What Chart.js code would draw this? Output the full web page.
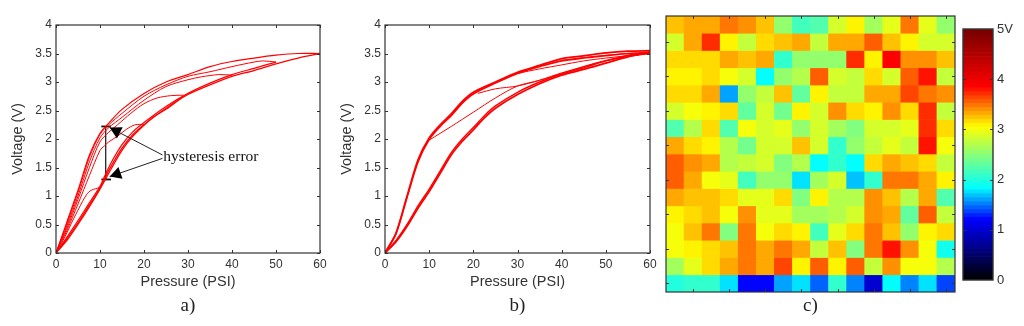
<!DOCTYPE html>
<html>
<head>
<meta charset="utf-8">
<title>Hysteresis and sensor map</title>
<script src="https://cdn.jsdelivr.net/npm/chart.js@4"></script>
<style>
  html, body { margin: 0; background: #fff; overflow: hidden; }
  canvas { position: absolute; top: 0; }
</style>
</head>
<body>
<canvas id="chartA" width="335" height="326" style="left:0"></canvas>
<canvas id="chartB" width="335" height="326" style="left:329px"></canvas>
<canvas id="chartC" width="300" height="326" style="left:660px"></canvas>
<canvas id="chartBar" width="69" height="326" style="left:955px"></canvas>
<script>
// axis ticks shared by panels a) and b)
const pressureTicks = [0, 10, 20, 30, 40, 50, 60];
const voltageTicks = [0, 0.5, 1, 1.5, 2, 2.5, 3, 3.5, 4];

// panel a) loading branches
const aLoadP = [0, 2.5, 5, 7.5, 10, 11, 12.5, 15, 17.5, 20, 25, 30, 35, 40, 45, 50, 55, 60];
const aLoadV = [0, 0.25, 0.53, 0.83, 1.14, 1.3, 1.52, 1.84, 2.08, 2.25, 2.54, 2.78, 2.95, 3.1, 3.2, 3.32, 3.42, 3.5];
const aLoad50P = [0, 2.5, 5, 7.5, 10, 11, 12.5, 15, 17.5, 20, 25, 30, 35, 40, 45, 50];
const aLoad50V = [0, 0.28, 0.57, 0.87, 1.17, 1.34, 1.58, 1.9, 2.13, 2.29, 2.57, 2.8, 2.98, 3.13, 3.24, 3.35];
const aLoad30P = [0, 2.5, 5, 7.5, 10, 12.5, 15, 17.5, 20, 22, 25, 29];
const aLoad30V = [0, 0.22, 0.5, 0.8, 1.12, 1.47, 1.8, 2.05, 2.24, 2.38, 2.52, 2.75];

// panel a) unloading branches, one per peak pressure
const aDown60P = [60, 55, 50, 45, 40, 35, 30, 25, 20, 15, 12, 10, 7.6, 5, 2.5, 0];
const aDown60V = [3.5, 3.5, 3.47, 3.42, 3.36, 3.27, 3.13, 3.0, 2.8, 2.52, 2.28, 2.1, 1.72, 1.1, 0.55, 0];
const aDown50P = [50, 47, 45, 40, 35, 30, 25, 20, 15, 12, 10, 7.6, 5, 2.5, 0];
const aDown50V = [3.35, 3.37, 3.35, 3.27, 3.18, 3.1, 2.95, 2.75, 2.45, 2.25, 2.08, 1.68, 1.06, 0.52, 0];
const aDown40P = [40, 37, 33, 30, 25, 20, 15, 12, 10, 7.6, 5, 2.5, 0];
const aDown40V = [3.12, 3.13, 3.09, 3.04, 2.92, 2.68, 2.38, 2.2, 2.02, 1.6, 1.0, 0.48, 0];
const aDown30P = [29, 26, 23, 20, 17, 14, 12, 10, 7.6, 5, 2.5, 0];
const aDown30V = [2.77, 2.76, 2.72, 2.62, 2.45, 2.25, 2.12, 1.95, 1.5, 0.94, 0.44, 0];
const aDown20P = [20, 18, 16, 14, 12, 11, 10, 7.6, 5, 2.5, 0];
const aDown20V = [2.25, 2.25, 2.17, 2.05, 1.95, 1.88, 1.8, 1.36, 0.86, 0.4, 0];
const aDown10P = [10, 8, 7, 6, 4, 2, 0];
const aDown10V = [1.15, 1.1, 1.03, 0.9, 0.6, 0.28, 0];

// panel a) error bar at 11 PSI
const errorBarP = [11.3, 11.3];
const errorBarV = [1.29, 2.22];
const capP = [10.3, 12.5];
const capTopV = [2.22, 2.22];
const capLowV = [1.29, 1.29];

// panel a) annotation anchors, data coordinates
const noteLabel = 'hysteresis error';
const noteAt = [24.4, 1.69];
const arrowTips = [[12.2, 2.2], [12.2, 1.34]];
const arrowTails = [[24.2, 1.72], [24.2, 1.66]];

// panel b) branches
const bLoadP = [0, 2.5, 5, 7.5, 10, 12.5, 15, 17.5, 20, 22.5, 25, 30, 35, 40, 45, 50, 55, 60];
const bLoadV = [0, 0.2, 0.47, 0.79, 1.08, 1.4, 1.72, 1.96, 2.16, 2.37, 2.54, 2.78, 2.97, 3.12, 3.22, 3.33, 3.44, 3.52];
const bLoad2V = [0, 0.22, 0.5, 0.83, 1.12, 1.44, 1.76, 2.0, 2.2, 2.41, 2.58, 2.82, 3.0, 3.14, 3.25, 3.37, 3.47, 3.53];
const bDownP = [60, 55, 50, 45, 40, 35, 30, 25, 20, 17.5, 15, 12.5, 10, 7.5, 5, 2.5, 0];
const bDownV = [3.55, 3.54, 3.51, 3.46, 3.41, 3.29, 3.17, 3.0, 2.82, 2.66, 2.44, 2.25, 2.02, 1.64, 1.0, 0.35, 0];
const bDown2V = [3.5, 3.5, 3.46, 3.42, 3.37, 3.27, 3.15, 2.98, 2.79, 2.63, 2.41, 2.22, 1.99, 1.6, 0.98, 0.34, 0];
const bUp10P = [10, 15, 20, 25, 30, 35, 40, 50, 60];
const bUp10V = [1.98, 2.22, 2.47, 2.72, 2.93, 3.03, 3.16, 3.37, 3.52];
const bUp20P = [21, 25, 30, 35, 40, 50, 60];
const bUp20V = [2.8, 2.88, 2.93, 3.03, 3.15, 3.38, 3.5];
const bUp30P = [30, 35, 40, 45, 50, 60];
const bUp30V = [3.15, 3.23, 3.3, 3.37, 3.42, 3.5];
const bUp40P = [40, 45, 50, 55, 60];
const bUp40V = [3.38, 3.43, 3.47, 3.5, 3.52];

// panel c) sensor voltages, top row first
const heatColumns = ['1', '2', '3', '4', '5', '6', '7', '8', '9', '10', '11', '12', '13', '14', '15', '16'];
const heatRows = [
  [3.21, 3.29, 3.29, 3.49, 3.37, 3.25, 2.57, 2.14, 2.2, 2.87, 3.05, 2.63, 2.93, 3.45, 2.93, 2.57],
  [2.87, 3.29, 3.69, 3.05, 2.81, 3.13, 3.21, 3.29, 2.81, 3.33, 3.33, 3.57, 3.21, 3.05, 2.87, 2.87],
  [3.13, 3.13, 3.13, 3.29, 3.21, 3.29, 2.08, 2.51, 2.57, 2.51, 3.69, 3.05, 3.85, 3.41, 3.41, 3.25],
  [3.05, 3.05, 3.13, 2.99, 2.87, 1.83, 2.51, 2.69, 3.53, 2.87, 2.81, 3.13, 2.87, 3.53, 3.81, 2.81],
  [3.13, 3.17, 3.29, 1.58, 2.51, 2.81, 3.25, 2.33, 3.05, 2.75, 2.75, 3.33, 3.33, 3.61, 3.45, 3.37],
  [2.87, 2.99, 3.05, 3.17, 2.33, 2.87, 2.39, 3.05, 2.87, 3.41, 3.13, 3.05, 3.41, 3.13, 3.73, 2.81],
  [2.26, 2.69, 3.13, 2.2, 2.99, 2.87, 2.93, 2.57, 2.87, 2.63, 2.45, 2.87, 2.87, 2.93, 3.73, 3.13],
  [3.29, 3.17, 3.09, 2.69, 2.39, 2.87, 2.87, 3.21, 2.87, 2.08, 2.57, 2.81, 2.93, 2.75, 3.81, 2.99],
  [3.53, 3.41, 3.33, 2.69, 2.81, 2.87, 2.45, 2.69, 1.83, 2.08, 1.83, 3.13, 3.33, 3.21, 3.17, 2.75],
  [3.53, 3.29, 2.99, 2.93, 2.14, 2.57, 2.51, 1.75, 2.63, 2.87, 1.67, 2.08, 3.45, 3.45, 3.29, 3.05],
  [3.29, 3.21, 3.21, 3.13, 2.93, 2.93, 3.13, 2.45, 3.05, 2.69, 2.69, 3.37, 3.21, 2.69, 3.29, 2.2],
  [3.05, 3.13, 3.25, 2.99, 3.37, 2.93, 2.93, 2.63, 2.63, 2.69, 2.87, 3.37, 3.29, 2.33, 3.53, 2.81],
  [2.99, 3.25, 3.45, 2.45, 3.45, 2.99, 3.13, 3.05, 2.14, 2.93, 3.13, 3.45, 3.21, 2.51, 3.05, 3.13],
  [2.99, 3.05, 3.13, 3.21, 3.45, 3.29, 3.45, 3.29, 2.75, 3.21, 2.45, 3.45, 3.81, 3.37, 2.99, 1.95],
  [2.63, 2.93, 3.13, 3.29, 3.45, 3.29, 3.61, 3.05, 3.53, 3.05, 3.53, 2.75, 3.37, 2.99, 2.99, 2.69],
  [2.02, 2.08, 2.08, 1.77, 1.2, 1.2, 1.58, 1.75, 1.45, 2.08, 1.55, 1.0, 1.83, 1.52, 1.77, 1.36]
];
const heatTickCols = [1, 3, 5, 7, 9, 11, 13, 15];
const heatTickRows = [1.5, 3.5, 5.5, 7.5, 9.5, 11.5, 13.5, 15.5];

// colour bar key: volts -> rgb
const mapVolts = [0, 1.2, 1.83, 2.45, 3.05, 3.85, 5];
const mapRed = [0, 0, 0, 128, 255, 255, 115];
const mapGreen = [0, 0, 255, 255, 255, 0, 0];
const mapBlue = [0, 255, 255, 128, 0, 0, 0];
const barTicks = [0, 1, 2, 3, 4, 5];
const barSteps = 64;

const INK = '#333';
const LABEL_FONT = 'Liberation Sans, Arial, sans-serif';
const SERIF_FONT = 'Liberation Serif, Times New Roman, serif';

function voltColor(volts) {
  const level = (Math.floor(Math.min(volts, 4.999) / 5 * barSteps) + 0.5) * 5 / barSteps;
  let i = 0;
  while (i < mapVolts.length - 2 && level > mapVolts[i + 1]) i++;
  const t = (level - mapVolts[i]) / (mapVolts[i + 1] - mapVolts[i]);
  const mix = (c) => Math.round(c[i] + (c[i + 1] - c[i]) * t);
  return `rgb(${mix(mapRed)},${mix(mapGreen)},${mix(mapBlue)})`;
}

// matlab style frame with inward ticks on all four sides
const boxTicks = {
  id: 'boxTicks',
  afterDatasetsDraw(chart, args, opts) {
    const { ctx, chartArea: a, scales } = chart;
    ctx.save();
    ctx.strokeStyle = INK;
    ctx.lineWidth = 1;
    ctx.beginPath();
    (opts.x || []).forEach((v) => {
      const px = Math.round(scales.x.getPixelForValue(v)) + 0.5;
      ctx.moveTo(px, a.top); ctx.lineTo(px, a.top + opts.len);
      ctx.moveTo(px, a.bottom); ctx.lineTo(px, a.bottom - opts.len);
    });
    (opts.y || []).forEach((v) => {
      const py = Math.round(scales.y.getPixelForValue(v)) + 0.5;
      ctx.moveTo(a.left, py); ctx.lineTo(a.left + opts.len, py);
      ctx.moveTo(a.right, py); ctx.lineTo(a.right - opts.len, py);
    });
    ctx.stroke();
    ctx.lineWidth = opts.frame || 1.2;
    ctx.strokeRect(a.left, a.top, a.right - a.left, a.bottom - a.top);
    ctx.restore();
  }
};

// arrows and label of the hysteresis note in panel a)
const hysteresisNote = {
  id: 'hysteresisNote',
  afterDatasetsDraw(chart) {
    const { ctx, scales: { x, y } } = chart;
    ctx.save();
    ctx.strokeStyle = '#222';
    ctx.fillStyle = '#000';
    ctx.lineWidth = 1;
    arrowTips.forEach((tip, i) => {
      const tx = x.getPixelForValue(tip[0]);
      const ty = y.getPixelForValue(tip[1]);
      const sx = x.getPixelForValue(arrowTails[i][0]);
      const sy = y.getPixelForValue(arrowTails[i][1]);
      const angle = Math.atan2(sy - ty, sx - tx);
      ctx.beginPath();
      ctx.moveTo(sx, sy);
      ctx.lineTo(tx, ty);
      ctx.stroke();
      ctx.beginPath();
      ctx.moveTo(tx, ty);
      ctx.lineTo(tx + 13 * Math.cos(angle - 0.5), ty + 13 * Math.sin(angle - 0.5));
      ctx.lineTo(tx + 13 * Math.cos(angle + 0.5), ty + 13 * Math.sin(angle + 0.5));
      ctx.closePath();
      ctx.fill();
    });
    ctx.font = '15.5px ' + SERIF_FONT;
    ctx.textBaseline = 'middle';
    ctx.fillStyle = '#111';
    ctx.fillText(noteLabel, x.getPixelForValue(noteAt[0]), y.getPixelForValue(noteAt[1]));
    ctx.restore();
  }
};

function branch(xs, ys, width) {
  return {
    data: xs.map((p, i) => ({ x: p, y: ys[i] })),
    borderColor: '#ff0000',
    borderWidth: width,
    showLine: true,
    pointRadius: 0,
    tension: 0.3
  };
}

function blackLine(xs, ys, width) {
  return { ...branch(xs, ys, width), borderColor: '#111', tension: 0 };
}

function panelTitle(text) {
  return {
    display: true,
    text,
    position: 'bottom',
    fullSize: false,
    color: '#222',
    padding: 0,
    font: { family: SERIF_FONT, size: 19, weight: 'normal' }
  };
}

function curveChart(id, datasets, caption, rightPad, extraPlugins) {
  new Chart(document.getElementById(id), {
    type: 'scatter',
    data: { datasets },
    plugins: [boxTicks, ...extraPlugins],
    options: {
      responsive: false,
      animation: false,
      layout: { padding: { top: 25, right: rightPad, bottom: 9, left: 0 } },
      plugins: {
        legend: { display: false },
        tooltip: { enabled: false },
        title: panelTitle(caption),
        boxTicks: { x: pressureTicks, y: voltageTicks, len: 3 }
      },
      scales: {
        x: {
          min: 0,
          max: 60,
          grid: { display: false, drawTicks: false },
          border: { display: false },
          afterFit: (scale) => { scale.height = 41.2; },
          afterBuildTicks: (scale) => { scale.ticks = pressureTicks.map((value) => ({ value })); },
          ticks: { color: INK, padding: 4, maxRotation: 0, font: { family: LABEL_FONT, size: 12 }, callback: (value) => String(value) },
          title: { display: true, text: 'Pressure (PSI)', color: INK, font: { family: LABEL_FONT, size: 14.5 } }
        },
        y: {
          min: 0,
          max: 4,
          grid: { display: false, drawTicks: false },
          border: { display: false },
          afterFit: (scale) => { scale.width = 56; },
          afterBuildTicks: (scale) => { scale.ticks = voltageTicks.map((value) => ({ value })); },
          ticks: { color: INK, padding: 4, font: { family: LABEL_FONT, size: 12 }, callback: (value) => String(value) },
          title: { display: true, text: 'Voltage (V)', color: INK, padding: { top: 9, bottom: 4 }, font: { family: LABEL_FONT, size: 14.5 } }
        }
      }
    }
  });
}

curveChart('chartA', [
  branch(aLoadP, aLoadV, 1.3),
  branch(aLoad50P, aLoad50V, 1.2),
  branch(aLoad30P, aLoad30V, 1.2),
  branch(aDown60P, aDown60V, 1.2),
  branch(aDown50P, aDown50V, 1),
  branch(aDown40P, aDown40V, 1),
  branch(aDown30P, aDown30V, 1),
  branch(aDown20P, aDown20V, 1),
  branch(aDown10P, aDown10V, 1),
  blackLine(errorBarP, errorBarV, 1.2),
  blackLine(capP, capTopV, 1.8),
  blackLine(capP, capLowV, 1.8)
], 'a)', 15, [hysteresisNote]);

curveChart('chartB', [
  branch(bLoadP, bLoadV, 1.8),
  branch(bLoadP, bLoad2V, 1.4),
  branch(bDownP, bDownV, 1.8),
  branch(bDownP, bDown2V, 1.6),
  branch(bUp10P, bUp10V, 1),
  branch(bUp20P, bUp20V, 1),
  branch(bUp30P, bUp30V, 1),
  branch(bUp40P, bUp40V, 1)
], 'b)', 14, []);

// each heat map row is one stacked dataset of unit height bars
new Chart(document.getElementById('chartC'), {
  type: 'bar',
  data: {
    labels: heatColumns,
    datasets: heatRows.map((row) => ({
      data: row.map(() => 1),
      backgroundColor: row.map(voltColor),
      barPercentage: 1,
      categoryPercentage: 1
    }))
  },
  plugins: [boxTicks],
  options: {
    responsive: false,
    animation: false,
    layout: { padding: { top: 16, right: 5, bottom: 9, left: 6 } },
    plugins: {
      legend: { display: false },
      tooltip: { enabled: false },
      title: panelTitle('c)'),
      boxTicks: { x: heatTickCols, y: heatTickRows, len: 3 }
    },
    scales: {
      x: {
        stacked: true,
        grid: { display: false },
        border: { display: false },
        ticks: { display: false },
        afterFit: (scale) => { scale.height = 2.2; }
      },
      y: { stacked: true, min: 0, max: 16, reverse: true, display: false }
    }
  }
});

// colour bar: one stacked segment per colour step of the key
const barLevels = Array.from({ length: barSteps }, (_, i) => i);
new Chart(document.getElementById('chartBar'), {
  type: 'bar',
  data: {
    labels: ['V'],
    datasets: barLevels.map((i) => ({
      data: [5 / barSteps],
      backgroundColor: voltColor((i + 0.5) * 5 / barSteps),
      barPercentage: 1,
      categoryPercentage: 1
    }))
  },
  plugins: [boxTicks],
  options: {
    responsive: false,
    animation: false,
    layout: { padding: { top: 29, right: 0, bottom: 46, left: 8 } },
    plugins: {
      legend: { display: false },
      tooltip: { enabled: false },
      boxTicks: { y: barTicks.slice(1, 5), len: 3, frame: 1.4 }
    },
    scales: {
      x: { stacked: true, display: false },
      y: {
        stacked: true,
        position: 'right',
        min: 0,
        max: 5,
        grid: { display: false, drawTicks: false },
        border: { display: false },
        afterFit: (scale) => { scale.width = 31; },
        afterBuildTicks: (scale) => { scale.ticks = barTicks.map((value) => ({ value })); },
        ticks: {
          color: INK,
          padding: 4,
          font: { family: LABEL_FONT, size: 13 },
          callback: (value) => (value === 5 ? '5V' : String(value))
        }
      }
    }
  }
});
</script>
</body>
</html>
